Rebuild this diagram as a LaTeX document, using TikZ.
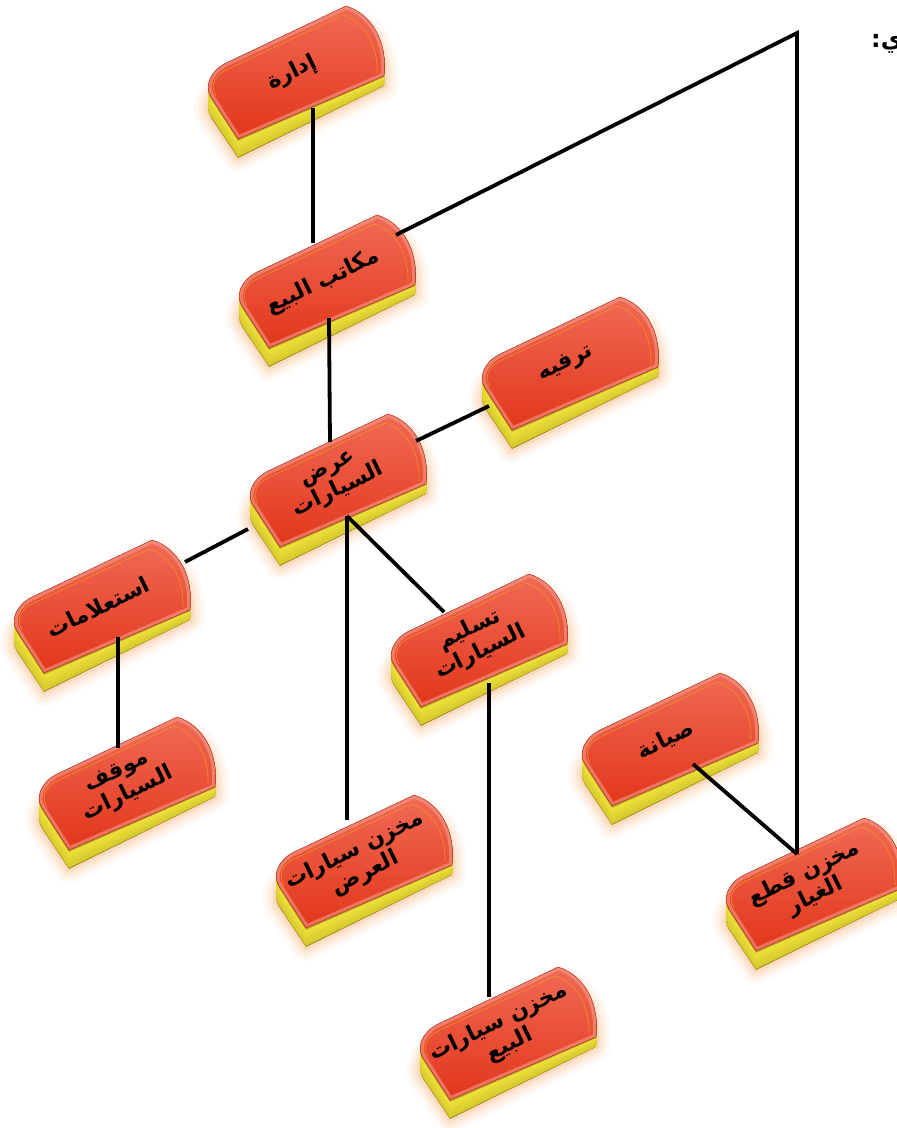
\documentclass[tikz,border=0pt]{standalone}
\usepackage{fontspec}
\newfontfamily\arabicfont[Script=Arabic]{DejaVu Sans}
\TeXXeTstate=1
\definecolor{facered}{HTML}{EC4628}
\definecolor{facelight}{HTML}{F06A55}
\definecolor{facedark}{HTML}{E2361A}
\definecolor{facerim}{HTML}{F7A090}
\definecolor{sideyel}{HTML}{F2E63A}
\definecolor{sidedark}{HTML}{8E7E10}
\definecolor{siderim}{HTML}{B8A42C}
\definecolor{glowcol}{HTML}{F0903A}
\definecolor{rimline}{HTML}{F39A1E}
\def\boxoutline{(0,0) -- (146,-63) .. controls (150,-95) and (135,-125) .. (108,-133) -- (-12,-76) .. controls (-27.4,-68.3) and (-34.2,-53.2) .. (-27,-42) -- cycle}
\def\boxinner{(-22,-43) .. controls (-28,-53) and (-24,-64) .. (-10,-70) -- (105,-124) .. controls (126,-118) and (140,-94) .. (139,-66)}
\tikzset{
  conn/.style={draw=black, line width=3.8pt},
  lbl/.style={rotate=26, align=center, text=black, inner sep=0pt,
    font=\fontsize{22}{25}\selectfont\bfseries\arabicfont},
}
\newcommand{\abox}[4]{%
  \begin{scope}[shift={(#2,#3+19)}, x={(1pt,0.0611pt)}]
    \foreach \ww/\oo in {28/0.05, 20/0.07, 13/0.1, 6/0.14}
      \draw[glowcol, line width=\ww pt, opacity=\oo, line join=round] \boxoutline;
  \end{scope}
  \foreach \k in {21,20,...,1} {
    \pgfmathsetmacro\ff{\k/21}
    \pgfmathsetmacro\pp{100-1.4*\k}
    \ifnum\k=21 \colorlet{cursd}{sidedark}\else
      \ifnum\k<3 \colorlet{cursd}{siderim}\else \colorlet{cursd}{sideyel!\pp!sidedark}\fi\fi
    \begin{scope}[shift={(#2,#3+18.9*\ff)}, x={(1pt,\ff*0.0611pt)}]
      \fill[cursd] \boxoutline;
    \end{scope}
  }
  \begin{scope}[shift={(#2,#3)}]
    \shade[top color=facelight, middle color=facered, bottom color=facedark] \boxoutline;
    \begin{scope}
      \clip \boxoutline;
      \draw[facerim, line width=7pt, opacity=0.55] \boxoutline;
    \end{scope}
    \draw[facedark!70!black, line width=0.4pt] \boxoutline;
    \draw[rimline, line width=0.6pt, opacity=0.85] \boxinner;
    \node[lbl] (#1) at (54,-66) {#4};
  \end{scope}
}
\begin{document}
\begin{tikzpicture}[x=1pt, y=-1pt]
\useasboundingbox[fill=white] (0,0) rectangle (897,1128);

\abox{idara}{238}{139}{\beginR إدارة\endR}
\abox{makatib}{269}{348}{\beginR مكاتب البيع\endR}
\abox{tarfih}{512}{430}{\beginR ترفيه\endR}
\abox{ard}{280}{547}{\beginR عرض\endR\\\beginR السيارات\endR}
\abox{istilamat}{44}{673}{\beginR استعلامات\endR}
\abox{taslim}{421}{707}{\beginR تسليم\endR\\\beginR السيارات\endR}
\abox{mawqif}{69}{850}{\beginR موقف\endR\\\beginR السيارات\endR}
\abox{makhzanard}{306}{928}{\beginR مخزن سيارات\endR\\\beginR العرض\endR}
\abox{siyana}{612}{806}{\beginR صيانة\endR}
\abox{qitaa}{756}{951}{\beginR مخزن قطع\endR\\\beginR الغيار\endR}
\abox{makhzanbay}{450}{1100}{\beginR مخزن سيارات\endR\\\beginR البيع\endR}

\node[anchor=west, inner sep=0pt, font=\fontsize{24}{26}\selectfont\bfseries\arabicfont] (cut) at (871,44) {\beginR ي:\endR};

% connector points
\coordinate (idara-s) at (313,108);
\coordinate (makatib-n) at (313,243);
\coordinate (makatib-s) at (329,318);
\coordinate (makatib-e) at (396,235);
\coordinate (corner) at (797,33);
\coordinate (ard-n) at (330,442);
\coordinate (ard-e) at (416,441);
\coordinate (tarfih-w) at (489,406);
\coordinate (ard-w) at (248,529);
\coordinate (istilamat-e) at (185,562);
\coordinate (ard-s) at (347,516);
\coordinate (makhzanard-n) at (347,820);
\coordinate (taslim-n) at (444,612);
\coordinate (istilamat-s) at (118,637);
\coordinate (mawqif-n) at (118,748);
\coordinate (taslim-s) at (489,683);
\coordinate (makhzanbay-n) at (489,997);
\coordinate (siyana-s) at (693,764);
\coordinate (qitaa-n) at (797,854);

\draw[conn] (idara-s) -- (makatib-n);
\draw[conn] (makatib-s) -- (ard-n);
\draw[conn, line join=miter] (makatib-e) -- (corner) -- (qitaa-n);
\draw[conn] (ard-e) -- (tarfih-w);
\draw[conn] (ard-w) -- (istilamat-e);
\draw[conn] (ard-s) -- (makhzanard-n);
\draw[conn] (ard-s) -- (taslim-n);
\draw[conn] (istilamat-s) -- (mawqif-n);
\draw[conn] (taslim-s) -- (makhzanbay-n);
\draw[conn] (siyana-s) -- (qitaa-n);
\end{tikzpicture}
\end{document}
